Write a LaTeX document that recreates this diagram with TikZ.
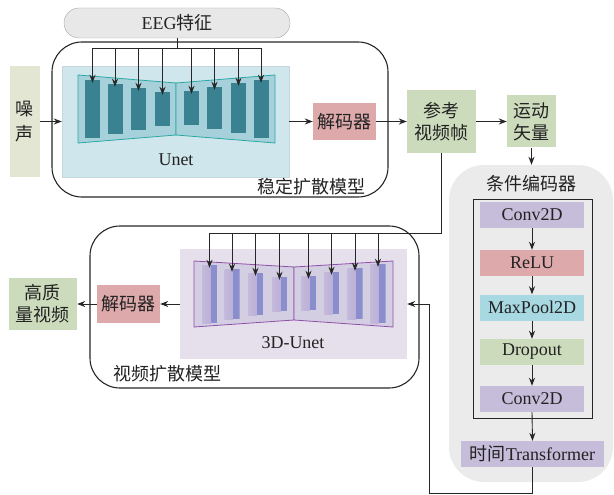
\documentclass[tikz,border=0pt]{standalone}
\usepackage{fontspec}
\setmainfont{Liberation Serif}
\newfontfamily\cjk{Noto Sans CJK SC}
\usetikzlibrary{arrows.meta}
\definecolor{ubgc}{HTML}{CFE6EC}
\definecolor{ttrap}{HTML}{A6D1DA}
\definecolor{tline}{HTML}{2BA8A4}
\definecolor{tbar}{HTML}{3A8292}
\definecolor{dbgc}{HTML}{E6E0ED}
\definecolor{ptrap}{HTML}{D4CEE3}
\definecolor{pline}{HTML}{9050A8}
\definecolor{eegc}{HTML}{E8E8E8}
\definecolor{noisec}{HTML}{E2E6D3}
\definecolor{greenc}{HTML}{CDDBBD}
\definecolor{pinkc}{HTML}{DDA9AB}
\definecolor{purc}{HTML}{C5BDD9}
\definecolor{bluec}{HTML}{A8D8E2}
\definecolor{condc}{HTML}{EBEBEB}
\definecolor{txt}{HTML}{222222}
\definecolor{bA}{HTML}{C4BADB}
\definecolor{bB}{HTML}{E8E3F0}
\definecolor{bC}{HTML}{B4A8D3}
\definecolor{bD}{HTML}{8A8ECC}
\begin{document}
\begin{tikzpicture}[x=1pt,y=-1pt,
  font=\fontsize{18}{22}\selectfont, text=txt,
  box/.style={inner sep=0pt, align=center},
  arr/.style={-{Stealth[length=8pt,width=6pt]}, line width=0.9pt, draw=black!85},
  conn/.style={line width=0.9pt, draw=black!85},
  group/.style={draw=black!85, line width=1.1pt, rounded corners=30pt, inner sep=0pt},
  ubar/.style={fill=tbar, inner sep=0pt, minimum width=15pt},
  dbar/.style={inner sep=0pt, minimum width=15pt, path picture={
    \shade[left color=bA, middle color=bB, right color=bC]
      (path picture bounding box.south west) rectangle ([xshift=-6.5pt]path picture bounding box.north east);
    \fill[bD] ([xshift=-6.5pt]path picture bounding box.south east) rectangle (path picture bounding box.north east);}},
  enc/.style={box, minimum width=104pt, minimum height=26pt}]
\useasboundingbox (0,0) rectangle (614,495);

% ---------- containers ----------
\node[fill=condc, rounded corners=35pt, minimum width=164pt, minimum height=317pt, inner sep=0pt] (cond) at (531,323.5) {};
\node[group, minimum width=336pt, minimum height=155pt] (sd) at (220,119.5) {};
\node[group, minimum width=329pt, minimum height=162pt] (vd) at (254.5,307) {};

% ---------- EEG ----------
\node[box, draw=gray!70, fill=eegc, rounded corners=15pt, minimum width=226pt, minimum height=30pt] (eeg) at (177,23) {EEG{\cjk 特征}};

% ---------- upper Unet ----------
\node[box, fill=ubgc, draw=ubgc!85!gray, minimum width=227pt, minimum height=111pt] (ubg) at (175.5,121.5) {};
\draw[tline, fill=ttrap, line width=0.8pt] (78,75) -- (176,83) -- (176,135) -- (78,143) -- cycle;
\draw[tline, fill=ttrap, line width=0.8pt] (275,75) -- (176,83) -- (176,135) -- (275,143) -- cycle;
\node[ubar, minimum height=58pt] (u1) at (92.5,109) {};
\node[ubar, minimum height=50pt] (u2) at (115,109) {};
\node[ubar, minimum height=42pt] (u3) at (138.5,109) {};
\node[ubar, minimum height=34pt] (u4) at (162.5,109) {};
\node[ubar, minimum height=34pt] (u5) at (191.5,108) {};
\node[ubar, minimum height=42pt] (u6) at (214.5,108) {};
\node[ubar, minimum height=50pt] (u7) at (238.5,108) {};
\node[ubar, minimum height=58pt] (u8) at (261,109) {};
\node (unetlbl) at (176,160) {Unet};
\node (sdlbl) at (311,187) {\cjk 稳定扩散模型};

% ---------- left/right boxes ----------
\node[box, fill=noisec, minimum width=30pt, minimum height=110pt, font=\fontsize{18}{25}\selectfont\cjk] (noise) at (25,121.5) {噪\\声};
\node[box, fill=pinkc, minimum width=63pt, minimum height=37pt] (dec1) at (344.5,121.5) {\cjk 解码器};
\node[box, fill=greenc, minimum width=69pt, minimum height=63pt, font=\fontsize{18}{22}\selectfont\cjk] (ref) at (441.5,121.5) {参考\\视频帧};
\node[box, fill=greenc, minimum width=49pt, minimum height=52pt, font=\fontsize{18}{22}\selectfont\cjk] (mv) at (531.5,121.5) {运动\\矢量};

% ---------- condition encoder ----------
\node (condlbl) at (531,184) {\cjk 条件编码器};
\node[draw=black!85, line width=1pt, minimum width=119pt, minimum height=219pt, inner sep=0pt] (inner) at (532.5,308.5) {};
\node[enc, fill=purc] (c1) at (532,215) {Conv2D};
\node[enc, fill=pinkc] (c2) at (532,263) {ReLU};
\node[enc, fill=bluec] (c3) at (532,307.5) {MaxPool2D};
\node[enc, fill=greenc] (c4) at (532,352) {Dropout};
\node[enc, fill=purc] (c5) at (532,399) {Conv2D};
\node[box, fill=purc, minimum width=143pt, minimum height=26pt] (trans) at (532.5,454) {{\cjk 时间}Transformer};

% ---------- lower 3D-Unet ----------
\node[box, fill=dbgc, minimum width=227pt, minimum height=110pt] (dbg) at (293.5,304) {};
\draw[pline, fill=ptrap, line width=0.8pt] (194,261) -- (294,267) -- (294,320) -- (194,327) -- cycle;
\draw[pline, fill=ptrap, line width=0.8pt] (393,261) -- (294,267) -- (294,320) -- (393,327) -- cycle;
\node[dbar, minimum height=58pt] (d1) at (209.5,294) {};
\node[dbar, minimum height=50pt] (d2) at (232,294) {};
\node[dbar, minimum height=42pt] (d3) at (255.5,294) {};
\node[dbar, minimum height=34pt] (d4) at (279.5,294) {};
\node[dbar, minimum height=34pt] (d5) at (308.5,293) {};
\node[dbar, minimum height=42pt] (d6) at (331.5,293) {};
\node[dbar, minimum height=51pt] (d7) at (355,293.5) {};
\node[dbar, minimum height=59pt] (d8) at (378,293.5) {};
\node (d3lbl) at (293,343) {3D-Unet};
\node (vdlbl) at (167,374) {\cjk 视频扩散模型};
\node[box, fill=pinkc, minimum width=63pt, minimum height=38pt] (dec2) at (128.5,304) {\cjk 解码器};
\node[box, fill=greenc, minimum width=68pt, minimum height=52pt, font=\fontsize{18}{22}\selectfont\cjk] (hq) at (43,304) {高质\\量视频};

% ---------- connectors ----------
\coordinate (bus1) at (0,48);
\coordinate (bus2) at (0,233);
\coordinate (tb) at (429,493);
\draw[conn] (eeg.south) -- (eeg.south |- bus1);
\draw[conn] (u1.north |- bus1) -- (u8.north |- bus1);
\foreach \i in {1,...,8} \draw[arr] (u\i.north |- bus1) -- ([yshift=-3pt]u\i.north);
\draw[arr] (noise.east) -- (ubg.west);
\draw[arr] (ubg.east) -- (dec1.west);
\draw[arr] (dec1.east) -- (ref.west);
\draw[arr] (ref.east) -- (mv.west);
\draw[arr] (mv.south) -- (mv.south |- cond.north);
\draw[arr] (c1.south) -- (c2.north);
\draw[arr] (c2.south) -- (c3.north);
\draw[arr] (c3.south) -- (c4.north);
\draw[arr] (c4.south) -- (c5.north);
\draw[arr] (c5.south) -- (trans.north);
\draw[arr] (trans.south) |- (tb) |- (dbg.east);
\draw[conn] (ref.south) |- (d1.north |- bus2);
\foreach \i in {1,...,8} \draw[arr] (d\i.north |- bus2) -- ([yshift=-3pt]d\i.north);
\draw[arr] (dbg.west) -- (dec2.east);
\draw[arr] (dec2.west) -- (hq.east);
\end{tikzpicture}
\end{document}
